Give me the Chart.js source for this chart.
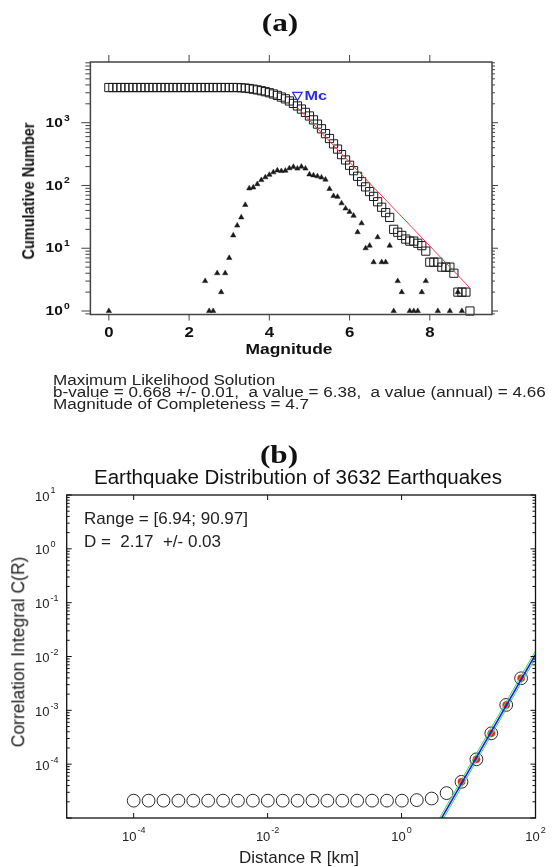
<!DOCTYPE html>
<html>
<head>
<meta charset="utf-8">
<title>Frequency-magnitude distribution and correlation integral</title>
<script src="https://cdn.jsdelivr.net/npm/chart.js@4.4.1/dist/chart.umd.min.js"></script>
<style>
  html, body { margin: 0; padding: 0; background: #fff; }
  body { position: relative; width: 556px; height: 867px; overflow: hidden;
         font-family: "Liberation Sans", Arial, sans-serif; color: #111; }
  canvas { position: absolute; left: 0; }
  .txt { position: absolute; white-space: pre; line-height: 1; }
  .panel { font-family: "Liberation Serif", "Times New Roman", serif; font-weight: bold; font-size: 25px;
           transform: translateX(-50%) scaleX(1.25); }
</style>
</head>
<body>
<canvas id="gr" width="556" height="420" style="top:0"></canvas>
<canvas id="corr" width="556" height="400" style="top:467px"></canvas>

<div class="txt panel" style="left:280px; top:10px">(a)</div>
<div class="txt" style="left:28.3px; top:191px; font-weight:bold; font-size:14.5px; transform:translate(-50%,-50%) scaleX(1.2) rotate(-90deg)">Cumulative Number</div>
<div class="txt" style="left:288.6px; top:342px; font-weight:bold; font-size:14.5px; transform:translateX(-50%) scaleX(1.2)">Magnitude</div>
<div class="txt" style="left:53px; top:375.4px; font-size:14px; line-height:11.6px; color:#222; transform:scaleX(1.22); transform-origin:left center">Maximum Likelihood Solution
b-value = 0.668 +/- 0.01,  a value = 6.38,  a value (annual) = 4.66
Magnitude of Completeness = 4.7</div>

<div class="txt panel" style="left:279px; top:442px">(b)</div>
<div class="txt" style="left:298px; top:467px; font-size:20.5px; transform:translateX(-50%)">Earthquake Distribution of 3632 Earthquakes</div>
<div class="txt" style="left:84px; top:509.7px; font-size:17px; color:#222">Range = [6.94; 90.97]</div>
<div class="txt" style="left:84px; top:532.7px; font-size:17px; color:#222">D =  2.17  +/- 0.03</div>
<div class="txt" style="left:18.5px; top:652px; font-size:17.5px; color:#222; transform:translate(-50%,-50%) rotate(-90deg)">Correlation Integral C(R)</div>
<div class="txt" style="left:299px; top:848.7px; font-size:17px; color:#222; transform:translateX(-50%)">Distance R [km]</div>

<script>
// ---- (a) frequency-magnitude distribution ----
const magBins = [
  0.0, 0.1, 0.2, 0.3, 0.4, 0.5, 0.6, 0.7, 0.8, 0.9,
  1.0, 1.1, 1.2, 1.3, 1.4, 1.5, 1.6, 1.7, 1.8, 1.9,
  2.0, 2.1, 2.2, 2.3, 2.4, 2.5, 2.6, 2.7, 2.8, 2.9,
  3.0, 3.1, 3.2, 3.3, 3.4, 3.5, 3.6, 3.7, 3.8, 3.9,
  4.0, 4.1, 4.2, 4.3, 4.4, 4.5, 4.6, 4.7, 4.8, 4.9,
  5.0, 5.1, 5.2, 5.3, 5.4, 5.5, 5.6, 5.7, 5.8, 5.9,
  6.0, 6.1, 6.2, 6.3, 6.4, 6.5, 6.6, 6.7, 6.8, 6.9,
  7.0, 7.1, 7.2, 7.3, 7.4, 7.5, 7.6, 7.7, 7.8, 7.9,
  8.0, 8.1, 8.2, 8.3, 8.4, 8.5, 8.6, 8.7, 8.8, 8.9,
  9.0
];
const cumulative = [
  3632, 3632, 3632, 3632, 3632, 3632, 3632, 3632, 3632, 3632,
  3632, 3632, 3632, 3632, 3632, 3632, 3632, 3632, 3632, 3632,
  3632, 3632, 3632, 3632, 3632, 3632, 3632, 3632, 3632, 3632,
  3632, 3632, 3632, 3600, 3560, 3500, 3420, 3330, 3230, 3120,
  3000, 2870, 2720, 2560, 2400, 2220, 2030, 1850, 1650, 1460,
  1280, 1110, 950, 800, 670, 560, 460, 380, 310, 255,
  210, 172, 140, 115, 95, 80, 67, 55, 45, 37,
  31, 20, 18, 16, 14, 13, 13, 12, 11, 9,
  6, 6, 6, 5, 5, 5, 4, 2, 2, 2,
  1
];
const perBin = [
  1, null, null, null, null, null, null, null, null, null,
  null, null, null, null, null, null, null, null, null, null,
  null, null, null, null, 3, 1, 1, 4, 2, 4,
  7, 16, 23, 31, 49, 90, 93, 105, 122, 135,
  148, 162, 174, 170, 172, 188, 198, 186, 199, 186,
  150, 145, 140, 134, 124, 88, 68, 66, 52, 43,
  38, 33, 18, 25, 10, 11, 6, 15, 6, 6,
  11, 1, 3, 2, null, 1, 1, 1, 2, 3,
  null, null, 1, null, null, 1, null, 2, 1, null,
  null
];
const fitMag = [4.7, 9.0];
const fitCount = [1740, 2.33];
const mcMag = 4.7;
const mcCount = 2760;
const magTicks = [0, 2, 4, 6, 8];
const countTicks = [1, 10, 100, 1000];

// ---- (b) correlation integral ----
const distR = [
  1.0e-4, 1.669e-4, 2.786e-4, 4.65e-4, 7.762e-4, 1.295e-3, 2.163e-3, 3.61e-3, 6.026e-3,
  1.006e-2, 1.679e-2, 2.802e-2, 4.677e-2, 7.806e-2, 0.1303, 0.2175, 0.3631, 0.6061,
  1.012, 1.689, 2.818, 4.704, 7.852, 13.11, 21.88, 36.52, 60.95
];
const corrC = [
  2.1e-5, 2.1e-5, 2.1e-5, 2.1e-5, 2.1e-5, 2.1e-5, 2.1e-5, 2.1e-5, 2.1e-5,
  2.1e-5, 2.1e-5, 2.1e-5, 2.1e-5, 2.1e-5, 2.1e-5, 2.1e-5, 2.1e-5, 2.1e-5,
  2.1e-5, 2.15e-5, 2.3e-5, 2.9e-5, 4.7e-5, 1.23e-4, 3.74e-4, 1.26e-3, 3.94e-3
];
const fitRange = [6.94, 90.97];
const lineR = [3.5, 120];
const lineC = [7.6e-6, 1.62e-2];
const lineHiC = [8.9e-6, 1.9e-2];
const lineLoC = [6.5e-6, 1.39e-2];
const distTicks = [1e-4, 1e-2, 1, 100];
const corrTicks = [1e-4, 1e-3, 1e-2, 1e-1, 1, 10];

const SANS = '"Liberation Sans", Arial, sans-serif';

function textAt(ctx, str, x, y, font, align, sx, color) {
  ctx.save();
  ctx.translate(x, y);
  ctx.scale(sx, 1);
  ctx.font = font;
  ctx.fillStyle = color;
  ctx.textAlign = align;
  ctx.textBaseline = 'middle';
  ctx.fillText(str, 0, 0);
  ctx.restore();
}

// "10" with a raised exponent
function powerLabel(ctx, exp, x, y, o) {
  const w = o.bold ? 'bold ' : '';
  const baseFont = w + o.base + 'px ' + SANS;
  const expFont = w + o.exp + 'px ' + SANS;
  ctx.save();
  ctx.translate(x, y);
  ctx.scale(o.sx, 1);
  ctx.fillStyle = o.color;
  ctx.textBaseline = 'middle';
  ctx.textAlign = 'left';
  ctx.font = baseFont;
  const bw = ctx.measureText('10').width;
  ctx.font = expFont;
  const ew = ctx.measureText(exp).width;
  let x0 = 0;
  if (o.align === 'center') x0 = -(bw + ew + 1) / 2;
  ctx.font = baseFont;
  ctx.fillText('10', x0, o.baseDy);
  ctx.font = expFont;
  ctx.fillText(exp, x0 + bw + 1, o.expDy);
  ctx.restore();
}

const frameA = {
  id: 'frameA',
  afterDatasetsDraw(chart) {
    const { ctx, chartArea: a, scales: { x, y } } = chart;
    ctx.save();
    ctx.strokeStyle = '#444';
    ctx.lineWidth = 1.5;
    ctx.strokeRect(a.left, a.top, a.right - a.left, a.bottom - a.top);
    ctx.lineWidth = 1;
    ctx.beginPath();
    magTicks.forEach(v => {
      const px = x.getPixelForValue(v);
      ctx.moveTo(px, a.bottom); ctx.lineTo(px, a.bottom + 6);
      ctx.moveTo(px, a.top); ctx.lineTo(px, a.top - 7);
    });
    for (let e = -1; e <= 3; e++) {
      for (let k = 1; k <= 9; k++) {
        const v = k * Math.pow(10, e);
        if (v < y.min || v > y.max) continue;
        const py = y.getPixelForValue(v);
        ctx.moveTo(a.left, py); ctx.lineTo(a.left - (k === 1 ? 9 : 5), py);
        ctx.moveTo(a.right, py); ctx.lineTo(a.right + (k === 1 ? 6 : 3), py);
      }
    }
    ctx.stroke();
    magTicks.forEach(v => {
      textAt(ctx, String(v), x.getPixelForValue(v), a.bottom + 19, 'bold 14px ' + SANS, 'center', 1.2, '#111');
    });
    countTicks.forEach(v => {
      powerLabel(ctx, String(Math.round(Math.log10(v))), 45.5, y.getPixelForValue(v),
        { bold: true, base: 13.5, exp: 9, sx: 1.15, color: '#111', baseDy: 0.5, expDy: -4.5, align: 'left' });
    });
    // Mc label next to its marker
    const mx = x.getPixelForValue(mcMag), my = y.getPixelForValue(mcCount);
    textAt(ctx, 'Mc', mx + 7, my + 1, 'bold 13.5px ' + SANS, 'left', 1.2, '#2b2bea');
    ctx.restore();
  }
};

new Chart(document.getElementById('gr'), {
  type: 'scatter',
  data: {
    datasets: [
      {
        label: 'Maximum likelihood fit',
        data: fitMag.map((m, i) => ({ x: m, y: fitCount[i] })),
        showLine: true, borderColor: '#ec3f45', borderWidth: 1, pointRadius: 0
      },
      {
        label: 'Mc',
        data: [{ x: mcMag, y: mcCount }],
        pointStyle: 'triangle', pointRotation: 180, pointRadius: 5.5,
        borderColor: '#2b2bea', borderWidth: 1.2, backgroundColor: 'rgba(0,0,0,0)', clip: false
      },
      {
        label: 'Cumulative number',
        data: magBins.map((m, i) => ({ x: m, y: cumulative[i] })),
        pointStyle: 'rect', pointRadius: 5.8,
        borderColor: '#1a1a1a', borderWidth: 1, backgroundColor: 'rgba(0,0,0,0)', clip: false
      },
      {
        label: 'Number per bin',
        data: magBins.map((m, i) => ({ x: m, y: perBin[i] })).filter(p => p.y !== null),
        pointStyle: 'triangle', pointRadius: 3.1,
        borderColor: '#1a1a1a', borderWidth: 0.5, backgroundColor: '#1a1a1a', clip: false
      }
    ]
  },
  options: {
    responsive: false,
    animation: false,
    events: [],
    layout: { padding: { left: 90.4, right: 64, top: 62, bottom: 105.5 } },
    plugins: { legend: { display: false }, tooltip: { enabled: false } },
    scales: {
      x: { type: 'linear', min: -0.46, max: 9.55, display: false },
      y: { type: 'logarithmic', min: 0.88, max: 9270, display: false }
    }
  },
  plugins: [frameA]
});

const frameB = {
  id: 'frameB',
  afterDatasetsDraw(chart) {
    const { ctx, chartArea: a, scales: { x, y } } = chart;
    ctx.save();
    ctx.strokeStyle = '#111';
    ctx.lineWidth = 1.3;
    ctx.strokeRect(a.left, a.top, a.right - a.left, a.bottom - a.top);
    ctx.lineWidth = 1;
    ctx.beginPath();
    distTicks.forEach(v => {
      const px = x.getPixelForValue(v);
      ctx.moveTo(px, a.top); ctx.lineTo(px, a.top + 5);
      ctx.moveTo(px, a.bottom); ctx.lineTo(px, a.bottom - 5);
    });
    for (let e = -5; e <= 1; e++) {
      for (let k = 1; k <= 9; k++) {
        const v = k * Math.pow(10, e);
        if (v < y.min || v > y.max) continue;
        const py = y.getPixelForValue(v);
        const len = k === 1 ? 5 : 3;
        ctx.moveTo(a.left, py); ctx.lineTo(a.left + len, py);
        ctx.moveTo(a.right, py); ctx.lineTo(a.right - len, py);
      }
    }
    ctx.stroke();
    corrTicks.forEach(v => {
      powerLabel(ctx, String(Math.round(Math.log10(v))), 35, y.getPixelForValue(v),
        { bold: false, base: 13, exp: 9, sx: 1, color: '#222', baseDy: 2, expDy: -4, align: 'left' });
    });
    distTicks.forEach(v => {
      powerLabel(ctx, String(Math.round(Math.log10(v))), x.getPixelForValue(v), a.bottom + 19,
        { bold: false, base: 13, exp: 9, sx: 1, color: '#222', baseDy: 0, expDy: -6.5, align: 'center' });
    });
    ctx.restore();
  }
};

const corrPts = distR.map((r, i) => ({ x: r, y: corrC[i] }));
const inRange = corrPts.filter(p => p.x >= fitRange[0] && p.x <= fitRange[1]);

new Chart(document.getElementById('corr'), {
  type: 'scatter',
  data: {
    datasets: [
      {
        label: 'Fit',
        data: lineR.map((r, i) => ({ x: r, y: lineC[i] })),
        showLine: true, borderColor: '#1c1cf0', borderWidth: 1.6, pointRadius: 0
      },
      {
        label: 'Upper bound',
        data: lineR.map((r, i) => ({ x: r, y: lineHiC[i] })),
        showLine: true, borderColor: '#3ee03e', borderWidth: 1, pointRadius: 0
      },
      {
        label: 'Lower bound',
        data: lineR.map((r, i) => ({ x: r, y: lineLoC[i] })),
        showLine: true, borderColor: '#3ee03e', borderWidth: 1, pointRadius: 0
      },
      {
        label: 'Fitted points',
        data: inRange,
        pointStyle: 'circle', pointRadius: 3.8, borderWidth: 0, backgroundColor: '#f42020'
      },
      {
        label: 'C(R)',
        data: corrPts,
        pointStyle: 'circle', pointRadius: 6.4,
        borderColor: '#2a2a2a', borderWidth: 1, backgroundColor: 'rgba(0,0,0,0)'
      }
    ]
  },
  options: {
    responsive: false,
    animation: false,
    events: [],
    layout: { padding: { left: 66.7, right: 20.5, top: 28, bottom: 49 } },
    plugins: { legend: { display: false }, tooltip: { enabled: false } },
    scales: {
      x: { type: 'logarithmic', min: 1e-5, max: 100, display: false },
      y: { type: 'logarithmic', min: 1e-5, max: 10, display: false }
    }
  },
  plugins: [frameB]
});
</script>
</body>
</html>
